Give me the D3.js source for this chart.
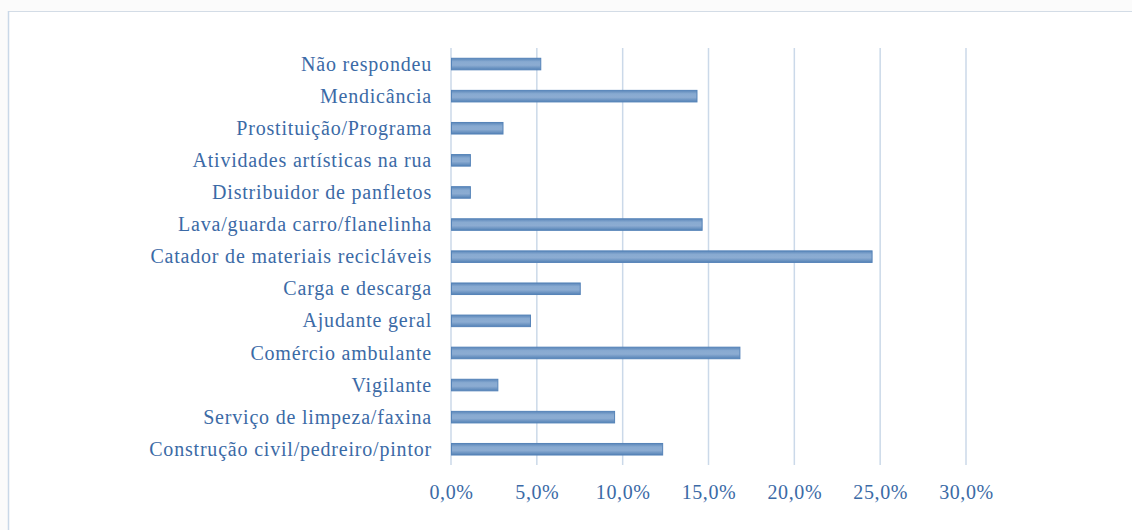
<!DOCTYPE html>
<html>
<head>
<meta charset="utf-8">
<script src="https://cdn.jsdelivr.net/npm/d3@7/dist/d3.min.js"></script>
<style>
  html, body { margin: 0; padding: 0; background: #fbfbfb; }
  svg { display: block; }
  text { font-family: "Liberation Serif", "Times New Roman", serif; fill: #3b6aa6; }
</style>
</head>
<body>
<script>
// Occupations, listed top to bottom
const categories = [
  "Não respondeu",
  "Mendicância",
  "Prostituição/Programa",
  "Atividades artísticas na rua",
  "Distribuidor de panfletos",
  "Lava/guarda carro/flanelinha",
  "Catador de materiais recicláveis",
  "Carga e descarga",
  "Ajudante geral",
  "Comércio ambulante",
  "Vigilante",
  "Serviço de limpeza/faxina",
  "Construção civil/pedreiro/pintor"
];
// Share of respondents (%)
const values = [5.2, 14.3, 3.0, 1.1, 1.1, 14.6, 24.5, 7.5, 4.6, 16.8, 2.7, 9.5, 12.3];
const ticks = [0, 5, 10, 15, 20, 25, 30];

const W = 1132, H = 530;
const svg = d3.select("body").append("svg").attr("width", W).attr("height", H);

// white panel with light frame on top and left
svg.append("rect").attr("x", 8).attr("y", 11).attr("width", W - 8).attr("height", H - 11)
  .attr("fill", "#ffffff");
svg.append("line").attr("x1", 8).attr("x2", W).attr("y1", 11.5).attr("y2", 11.5)
  .attr("stroke", "#d3dce6").attr("stroke-width", 1);
svg.append("line").attr("x1", 8.5).attr("x2", 8.5).attr("y1", 11).attr("y2", H)
  .attr("stroke", "#c9d8e8").attr("stroke-width", 1.5);

const x = d3.scaleLinear().domain([0, 30]).range([451, 966]);
const y = d3.scaleBand().domain(categories).range([48, 465.3]).paddingInner(0.64).paddingOuter(0.32);

// bar shading
const defs = svg.append("defs");
const grad = defs.append("linearGradient").attr("id", "barFill")
  .attr("x1", 0).attr("y1", 0).attr("x2", 0).attr("y2", 1);
grad.append("stop").attr("offset", "0%").attr("stop-color", "#5a86b9");
grad.append("stop").attr("offset", "30%").attr("stop-color", "#88aad1");
grad.append("stop").attr("offset", "60%").attr("stop-color", "#8cacd2");
grad.append("stop").attr("offset", "100%").attr("stop-color", "#5482b6");

// vertical gridlines
svg.append("g").selectAll("line").data(ticks).join("line")
  .attr("x1", d => x(d)).attr("x2", d => x(d))
  .attr("y1", 48).attr("y2", 465)
  .attr("stroke", "#cbd9e9").attr("stroke-width", 1.5);

// bars
svg.append("g").selectAll("rect").data(values).join("rect")
  .attr("x", x(0) + 0.5)
  .attr("y", (d, i) => y(categories[i]))
  .attr("width", d => x(d) - x(0))
  .attr("height", y.bandwidth())
  .attr("fill", "url(#barFill)")
  .attr("stroke", "#5583b8").attr("stroke-width", 1);

// category labels
const yAxis = d3.axisLeft(y).tickSize(0).tickPadding(19);
const gy = svg.append("g").attr("transform", `translate(${x(0)},0)`).call(yAxis);
gy.select(".domain").remove();
gy.selectAll("text")
  .style("font-family", "'Liberation Serif', serif")
  .style("font-size", "20px").style("letter-spacing", "0.8px")
  .attr("fill", "#3b6aa6").attr("dy", "0.33em");

// value axis labels
const xAxis = d3.axisBottom(x).tickValues(ticks).tickSize(0).tickPadding(0)
  .tickFormat(d => d3.format(".1f")(d).replace(".", ",") + "%");
const gx = svg.append("g").attr("transform", "translate(0,484)").call(xAxis);
gx.select(".domain").remove();
gx.selectAll("text")
  .style("font-family", "'Liberation Serif', serif")
  .style("font-size", "20px").style("letter-spacing", "0.6px")
  .attr("fill", "#3b6aa6").attr("dy", "0.75em");
</script>
</body>
</html>
